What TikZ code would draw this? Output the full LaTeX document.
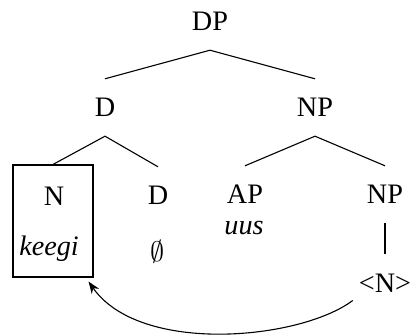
\documentclass[tikz,border=0pt]{standalone}
\usepackage{fontspec}
\setmainfont{Liberation Serif}
\usetikzlibrary{arrows.meta}
\begin{document}
\begin{tikzpicture}[x=1pt,y=-1pt,
  lab/.style={anchor=base,inner xsep=0pt,inner ysep=19pt,text height=19pt,text depth=0pt,font=\fontsize{28.2}{34}\selectfont},
  txt/.style={anchor=base,inner sep=0pt,font=\fontsize{28.2}{34}\selectfont},
  branch/.style={line width=1.1pt},
  movearrow/.style={line width=1.1pt,-{Stealth[length=12pt,width=9pt]}}]
\useasboundingbox (0,0) rectangle (414,336);
% nodes
\node[lab] (dp) at (210,31) {DP};
\node[lab] (d1) at (105,117) {D};
\node[lab] (np1) at (315,117) {NP};
\node[draw,line width=1.1pt,minimum width=80pt,minimum height=112pt,inner sep=0pt] (box) at (53,221) {};
\node[lab] (n) at (54,206) {N};
\node[txt] (keegi) at (49,255) {\itshape keegi};
\node[lab] (d2) at (158,205) {D};
\node[anchor=base,inner sep=0pt,font=\fontsize{10}{12}\selectfont,scale=2.82] (empty) at (158,261) {$\emptyset$};
\node[lab] (ap) at (245,204) {AP};
\node[txt] (uus) at (244,235) {\itshape uus};
\node[lab] (np2) at (385,204) {NP};
\node[lab] (trace) at (385,292) {<N>};
% branches
\draw[branch] (dp.south) -- (d1.north);
\draw[branch] (dp.south) -- (np1.north);
\draw[branch] (d1.south) -- (box.north);
\draw[branch] (d1.south) -- (d2.north);
\draw[branch] (np1.south) -- (ap.north);
\draw[branch] (np1.south) -- (np2.north);
\draw[branch] (np2.south) -- (trace.north);
% movement arrow
\draw[movearrow] ([shift={(-6pt,-18pt)}]trace.west) .. controls (300,340) and (140,355) .. ([shift={(-5pt,-4pt)}]box.south east);
\end{tikzpicture}
\end{document}
